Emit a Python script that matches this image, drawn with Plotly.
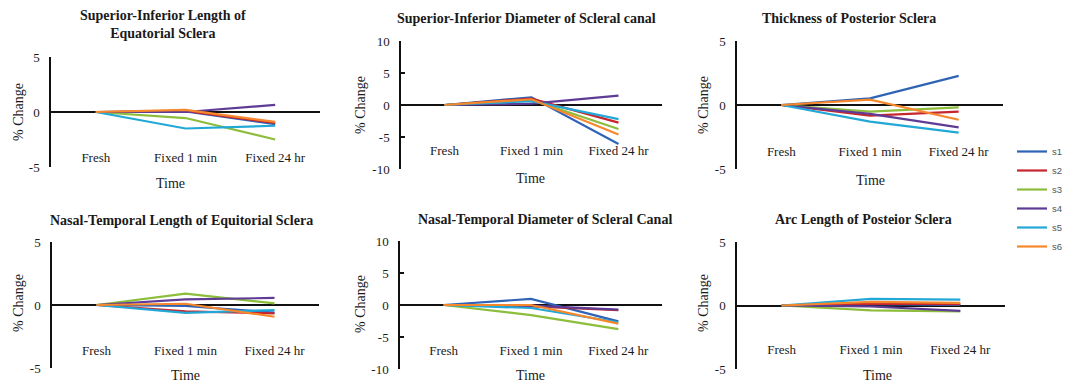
import plotly.graph_objects as go

W, H = 1067, 384

categories = ["Fresh", "Fixed 1 min", "Fixed 24 hr"]
series_names = ["s1", "s2", "s3", "s4", "s5", "s6"]
colors = ["#2E63B6", "#C6262D", "#8CBD3B", "#5E3B95", "#22A8D6", "#F6872B"]

titles = [
    "Superior-Inferior Length of<br>Equatorial Sclera",
    "Superior-Inferior Diameter of Scleral canal",
    "Thickness of Posterior Sclera",
    "Nasal-Temporal Length of Equitorial Sclera",
    "Nasal-Temporal Diameter of Scleral Canal",
    "Arc Length of Posteior Sclera",
]

# values per panel: s1..s6 at Fresh, Fixed 1 min, Fixed 24 hr
p1 = [[0, 0.05, -1.1], [0, 0.1, -1.0], [0, -0.55, -2.5], [0, 0.0, 0.65], [0, -1.5, -1.25], [0, 0.2, -0.9]]
p2 = [[0, 1.2, -6.1], [0, 1.0, -2.75], [0, 0.8, -3.75], [0, 0.2, 1.45], [0, 0.6, -2.2], [0, 0.9, -4.6]]
p3 = [[0, 0.52, 2.27], [0, -0.83, -0.52], [0, -0.52, -0.18], [0, -0.7, -1.75], [0, -1.3, -2.16], [0, 0.42, -1.15]]
p4 = [[0, -0.08, -0.6], [0, -0.5, -0.67], [0, 0.9, 0.13], [0, 0.45, 0.56], [0, -0.62, -0.4], [0, 0.1, -0.93]]
p5 = [[0, 0.95, -2.55], [0, -0.2, -0.8], [0, -1.57, -3.77], [0, -0.1, -0.73], [0, -0.47, -2.7], [0, 0.0, -2.9]]
p6 = [[0, 0.1, 0.05], [0, 0.15, 0.1], [0, -0.39, -0.47], [0, -0.08, -0.42], [0, 0.52, 0.47], [0, 0.28, 0.2]]
panels = [p1, p2, p3, p4, p5, p6]

y_limits = [5, 10, 5, 5, 10, 5]

# pixel layout of each plot area: (x0, x1, y_top, y_bottom)
boxes = [
    (51, 320, 57, 167),
    (401, 662, 41, 169),
    (737, 1003, 41, 169),
    (52, 319, 242, 368),
    (400, 662, 241, 369),
    (737, 1005, 242, 369),
]
xlabel_line = [148, 141, 142, 341, 341, 340]
title_pos = [(163, 25), (526, 18), (849, 18), (181, 220), (545, 219), (863, 219)]
ytitle_pos = [(18, 112), (360, 105), (703, 105), (18, 303), (360, 304), (703, 303)]
xtitle_pos = [(170, 183), (530, 178), (870, 180), (185, 375), (530, 375), (877, 375)]

serif = "Liberation Serif, Times New Roman, serif"
txt = "#1a1a1a"

fig = go.Figure()
layout = dict(
    width=W, height=H,
    margin=dict(l=0, r=0, t=0, b=0, autoexpand=False),
    paper_bgcolor="white", plot_bgcolor="white",
    font=dict(family=serif, color=txt),
    annotations=[],
    legend=dict(
        x=1012 / W, y=1 - 137 / H, xanchor="left", yanchor="top",
        font=dict(family="Liberation Sans, Arial, sans-serif", size=9.5, color="#555"),
        bgcolor="rgba(0,0,0,0)", itemwidth=30, tracegroupgap=0,
    ),
)

for i, data in enumerate(panels):
    n = i + 1
    xa = "x" if n == 1 else f"x{n}"
    ya = "y" if n == 1 else f"y{n}"
    for j, vals in enumerate(data):
        fig.add_trace(go.Scatter(
            x=categories, y=vals, mode="lines", name=series_names[j],
            line=dict(color=colors[j], width=2.2),
            xaxis=xa, yaxis=ya, showlegend=(i == 0), legendgroup=series_names[j],
        ))
    x0, x1, yt, yb = boxes[i]
    lim = y_limits[i]
    tv = [-lim, -lim / 2, 0, lim / 2, lim] if lim == 10 else [-lim, 0, lim]
    layout["xaxis" if n == 1 else f"xaxis{n}"] = dict(
        domain=[x0 / W, x1 / W], anchor="free", position=1 - xlabel_line[i] / H,
        type="category",
        range=[-0.5, 2.5], showline=False, showgrid=False, zeroline=False,
        ticks="",
        tickfont=dict(family=serif, size=13, color=txt),
        fixedrange=True,
    )
    layout["yaxis" if n == 1 else f"yaxis{n}"] = dict(
        domain=[1 - yb / H, 1 - yt / H], anchor=xa,
        range=[-lim, lim], tickvals=tv, ticktext=[str(int(v)) for v in tv],
        showline=True, linecolor="#111", linewidth=1.5,
        ticks="inside", ticklen=4, tickcolor="#111", tickwidth=1.5,
        showgrid=False, zeroline=True, zerolinecolor="#111", zerolinewidth=1.5,
        tickfont=dict(family=serif, size=13, color=txt),
        ticklabelstandoff=7,
    )
    tx, ty = title_pos[i]
    layout["annotations"].append(dict(
        text=f"<b>{titles[i]}</b>", x=tx / W, y=1 - ty / H, xref="paper", yref="paper",
        showarrow=False, xanchor="center", yanchor="middle",
        font=dict(family=serif, size=14, color=txt),
    ))
    ax_, ay_ = ytitle_pos[i]
    layout["annotations"].append(dict(
        text="% Change", x=ax_ / W, y=1 - ay_ / H, xref="paper", yref="paper",
        showarrow=False, xanchor="center", yanchor="middle", textangle=-90,
        font=dict(family=serif, size=14, color=txt),
    ))
    bx, by = xtitle_pos[i]
    layout["annotations"].append(dict(
        text="Time", x=bx / W, y=1 - by / H, xref="paper", yref="paper",
        showarrow=False, xanchor="center", yanchor="middle",
        font=dict(family=serif, size=14, color=txt),
    ))

fig.update_layout(**layout)
fig.write_html("out.html")
